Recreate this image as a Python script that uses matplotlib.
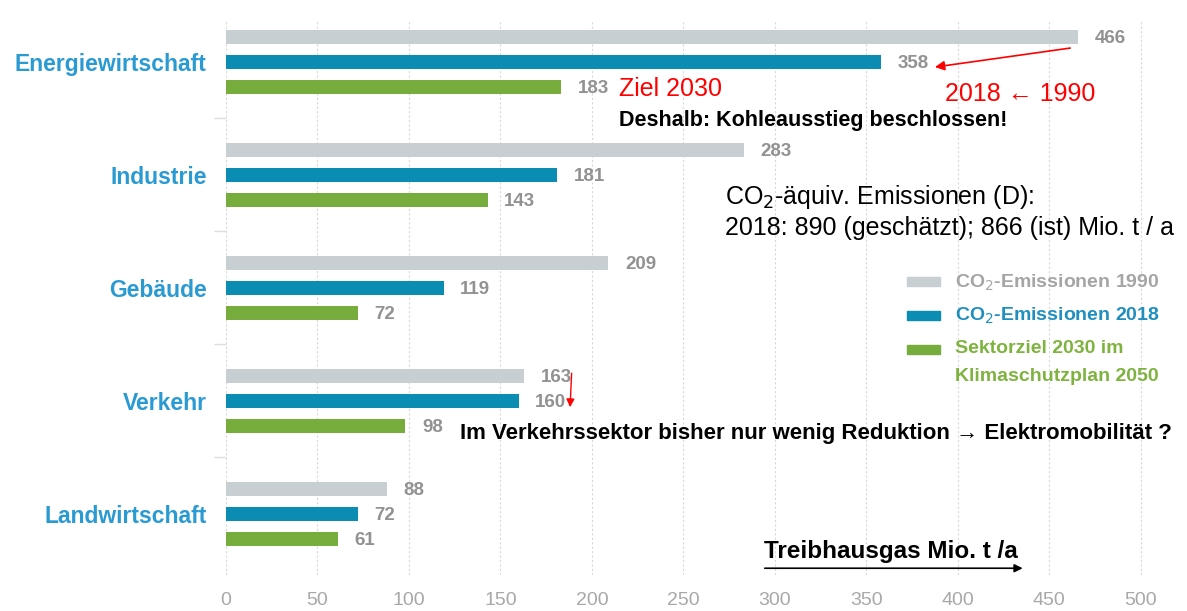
import matplotlib.pyplot as plt
from matplotlib.patches import Rectangle
import numpy as np

sectors = ["Energiewirtschaft", "Industrie", "Gebäude", "Verkehr", "Landwirtschaft"]
em_1990 = [466, 283, 209, 163, 88]
em_2018 = [358, 181, 119, 160, 72]
ziel_2030 = [183, 143, 72, 98, 61]
series_labels = ["CO$_2$-Emissionen 1990", "CO$_2$-Emissionen 2018",
                 "Sektorziel 2030 im\nKlimaschutzplan 2050"]
xticks = [0, 50, 100, 150, 200, 250, 300, 350, 400, 450, 500]

c_gray = "#c8cfd2"
c_blue = "#0b8cb3"
c_green = "#77ad3c"
c_cat = "#2a9ad2"
c_num = "#929292"
legend_text_colors = ["#a5a5a5", "#1f8fbf", "#7fb33f"]

plt.rcParams['font.family'] = ['Liberation Sans', 'DejaVu Sans']

fig = plt.figure(figsize=(11.87, 6.11), dpi=100)
ax = fig.add_axes([0.1904, 0.0589, 0.786, 0.9084])

y = np.arange(len(sectors))
off = 0.221
h = 0.125
series = [(em_1990, -off, c_gray), (em_2018, 0, c_blue), (ziel_2030, off, c_green)]
for vals, dy, col in series:
    bars = ax.barh(y + dy, vals, height=h, color=col, zorder=3)
    for b, v in zip(bars, vals):
        ax.annotate(str(v), (v, b.get_y() + h / 2), xytext=(12, -1),
                    textcoords="offset points", va="center", ha="left",
                    fontsize=13.5, color=c_num, fontweight="bold")

ax.set_xlim(0, 510)
ax.set_ylim(4.54, -0.37)
ax.set_xticks(xticks)
ax.set_xticklabels([str(t) for t in xticks], color="#a8a8a8", fontsize=14)
ax.tick_params(axis="x", length=0, pad=12)
ax.set_yticks(y)
ax.set_yticklabels(sectors, color=c_cat, fontsize=16.5, fontweight="bold")
ax.tick_params(axis="y", length=0, pad=14)
ax.set_yticks([0.5, 1.5, 2.5, 3.5], minor=True)
ax.tick_params(axis="y", which="minor", length=9, color="#dddddd", width=1)
ax.grid(axis="x", color="#d8d8d8", linestyle=(0, (2, 2)), linewidth=0.8, zorder=0)
for s in ax.spines.values():
    s.set_visible(False)

# annotations
ax.annotate("", xy=(386, 0.05), xytext=(463, -0.125),
            arrowprops=dict(arrowstyle="-|>", color="red", lw=1.2, mutation_scale=14))
ax.text(215, off + 0.02, "Ziel 2030", color="red", fontsize=18, va="center", ha="left")
ax.text(393, off + 0.06, "2018 \u2190 1990", color="red", fontsize=18, va="center", ha="left")
ax.text(215, 0.52, "Deshalb: Kohleausstieg beschlossen!", color="black", fontsize=15.5,
        fontweight="bold", va="center", ha="left")
ax.text(273, 1.2, "CO$_2$-äquiv. Emissionen (D):", color="black", fontsize=18,
        va="center", ha="left")
ax.text(273, 1.47, "2018: 890 (geschätzt); 866 (ist) Mio. t / a", color="black",
        fontsize=18, va="center", ha="left")
ax.annotate("", xy=(188, 3.08), xytext=(189, 2.73),
            arrowprops=dict(arrowstyle="-|>", color="red", lw=1, mutation_scale=12))
ax.text(128, 3.29, "Im Verkehrssektor bisher nur wenig Reduktion \u2192 Elektromobilität ?",
        color="black", fontsize=16, fontweight="bold", va="center", ha="left")
ax.text(294, 4.33, "Treibhausgas Mio. t /a", color="black", fontsize=17.5,
        fontweight="bold", va="center", ha="left")
ax.annotate("", xy=(437, 4.48), xytext=(293, 4.48),
            arrowprops=dict(arrowstyle="-|>", color="black", lw=1.2, mutation_scale=12))

# legend drawn by hand (axes fraction)
leg_rows = [0.528, 0.468, 0.406]
for lab, col, tcol, ry in zip(series_labels, [c_gray, c_blue, c_green],
                              legend_text_colors, leg_rows):
    ax.add_patch(Rectangle((0.730, ry - 0.0081), 0.0354, 0.0162, color=col,
                           transform=ax.transAxes, clip_on=False))
    ax.text(0.781, ry + 0.017, lab, color=tcol, fontsize=14, fontweight="bold",
            va="top", ha="left", linespacing=1.8, transform=ax.transAxes)

fig.savefig("out.png", dpi=100)
